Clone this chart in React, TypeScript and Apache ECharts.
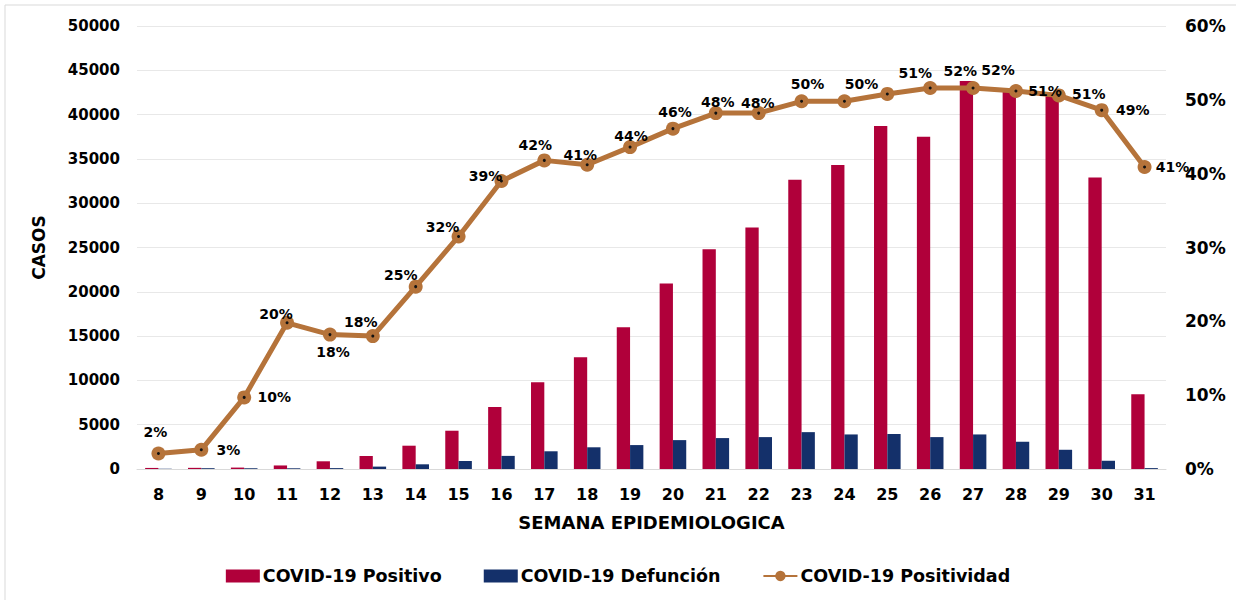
import React, { useEffect, useRef } from "react";
import * as echarts from "echarts";

const weeks = ["8", "9", "10", "11", "12", "13", "14", "15", "16", "17", "18", "19", "20", "21", "22", "23", "24", "25", "26", "27", "28", "29", "30", "31"];
const positivo = [120, 130, 160, 400, 870, 1470, 2630, 4320, 7000, 9800, 12600, 16000, 20950, 24800, 27250, 32650, 34300, 38700, 37500, 43800, 42700, 42200, 32900, 8450];
const defuncion = [30, 90, 90, 80, 100, 270, 530, 900, 1480, 2000, 2450, 2700, 3260, 3490, 3600, 4160, 3900, 3950, 3600, 3900, 3070, 2170, 930, 100];
const positividad = [2.1, 2.6, 9.7, 19.8, 18.2, 18.0, 24.7, 31.5, 39.0, 41.8, 41.2, 43.6, 46.1, 48.2, 48.2, 49.8, 49.8, 50.8, 51.6, 51.6, 51.2, 50.6, 48.6, 40.9];
const leftTicks = { min: 0, max: 50000, interval: 5000 };
const rightTicks = { min: 0, max: 60, interval: 10 };

// label placement (style), offsets relative to each marker centre
const labelOffsets: number[][] = [
  [-3, -21], [27, 0], [30, 0], [-11, -9], [3, 17], [-12, -14], [-15, -12], [-16, -9],
  [-16, -5], [-9, -15], [-7, -10], [1, -11], [2, -17], [2, -11], [-1, -10], [6, -17],
  [17, -17], [28, -21], [30, -17], [25, -18], [29, 0], [30, -1], [31, 0], [28, 0],
];

const FONT = "'DejaVu Sans', 'Noto Sans', sans-serif";

export default function App() {
  const ref = useRef<HTMLDivElement>(null);
  useEffect(() => {
    document.body.style.margin = "0";
    const chart = echarts.init(ref.current!, null, { renderer: "svg" });
    const lineColor = "#B5733A";
    chart.setOption({
      animation: false,
      textStyle: { fontFamily: FONT },
      graphic: [
        {
          type: "rect",
          shape: { x: 5, y: 5, width: 1300, height: 700 },
          style: { fill: "none", stroke: "#d9d9d9", lineWidth: 1 },
          silent: true,
        },
      ],
      grid: { left: 137, right: 70, top: 26, bottom: 131 },
      legend: {
        data: [
          { name: "COVID-19 Positivo", icon: "rect" },
          { name: "COVID-19 Defunción", icon: "rect" },
          { name: "COVID-19 Positividad" },
        ],
        top: 562,
        left: "center",
        itemWidth: 34,
        itemHeight: 13,
        itemGap: 42,
        textStyle: { fontFamily: FONT, fontWeight: "bold", fontSize: 17.5, color: "#000", padding: [0, 0, 0, -2] },
      },
      xAxis: {
        type: "category",
        data: weeks,
        name: "SEMANA EPIDEMIOLOGICA",
        nameLocation: "middle",
        nameGap: 44,
        nameTextStyle: { fontFamily: FONT, fontWeight: "bold", fontSize: 18, color: "#000" },
        axisLine: { lineStyle: { color: "#d9d9d9", width: 1 } },
        axisTick: { show: false },
        axisLabel: { fontFamily: FONT, fontWeight: "bold", fontSize: 16, color: "#000", margin: 17 },
      },
      yAxis: [
        {
          type: "value",
          ...leftTicks,
          name: "CASOS",
          nameLocation: "middle",
          nameGap: 90,
          nameRotate: 90,
          nameTextStyle: { fontFamily: FONT, fontWeight: "bold", fontSize: 17, color: "#000" },
          axisLine: { show: false },
          axisTick: { show: false },
          splitLine: { lineStyle: { color: "#e8e8e8", width: 1 } },
          axisLabel: { fontFamily: FONT, fontWeight: "bold", fontSize: 15, color: "#000", margin: 17, formatter: (v: number) => String(v) },
        },
        {
          type: "value",
          ...rightTicks,
          position: "right",
          axisLine: { show: false },
          axisTick: { show: false },
          splitLine: { show: false },
          axisLabel: { fontFamily: FONT, fontWeight: "bold", fontSize: 17, color: "#000", margin: 19, formatter: "{value}%" },
        },
      ],
      series: [
        {
          name: "COVID-19 Positivo",
          type: "bar",
          data: positivo,
          barWidth: 13.3,
          barGap: "0%",
          itemStyle: { color: "#B0003A" },
        },
        {
          name: "COVID-19 Defunción",
          type: "bar",
          data: defuncion,
          barWidth: 13.3,
          barGap: "0%",
          itemStyle: { color: "#14306A" },
        },
        {
          name: "COVID-19 Positividad",
          type: "line",
          yAxisIndex: 1,
          z: 5,
          data: positividad.map((v, i) => ({ value: v, label: { offset: labelOffsets[i] } })),
          symbol: "circle",
          symbolSize: 14,
          lineStyle: { color: lineColor, width: 5 },
          itemStyle: { color: lineColor },
          label: {
            show: true,
            position: "inside",
            formatter: (p: any) => Math.round(p.value) + "%",
            fontFamily: FONT,
            fontWeight: "bold",
            fontSize: 14,
            color: "#000",
            align: "center",
            verticalAlign: "middle",
          },
        },
        {
          name: "dots",
          type: "line",
          yAxisIndex: 1,
          z: 6,
          data: positividad,
          symbol: "circle",
          symbolSize: 3,
          lineStyle: { opacity: 0, width: 0 },
          itemStyle: { color: "#111" },
          silent: true,
        },
      ],
    });
    return () => chart.dispose();
  }, []);
  return <div ref={ref} style={{ width: 1236, height: 600 }} />;
}
